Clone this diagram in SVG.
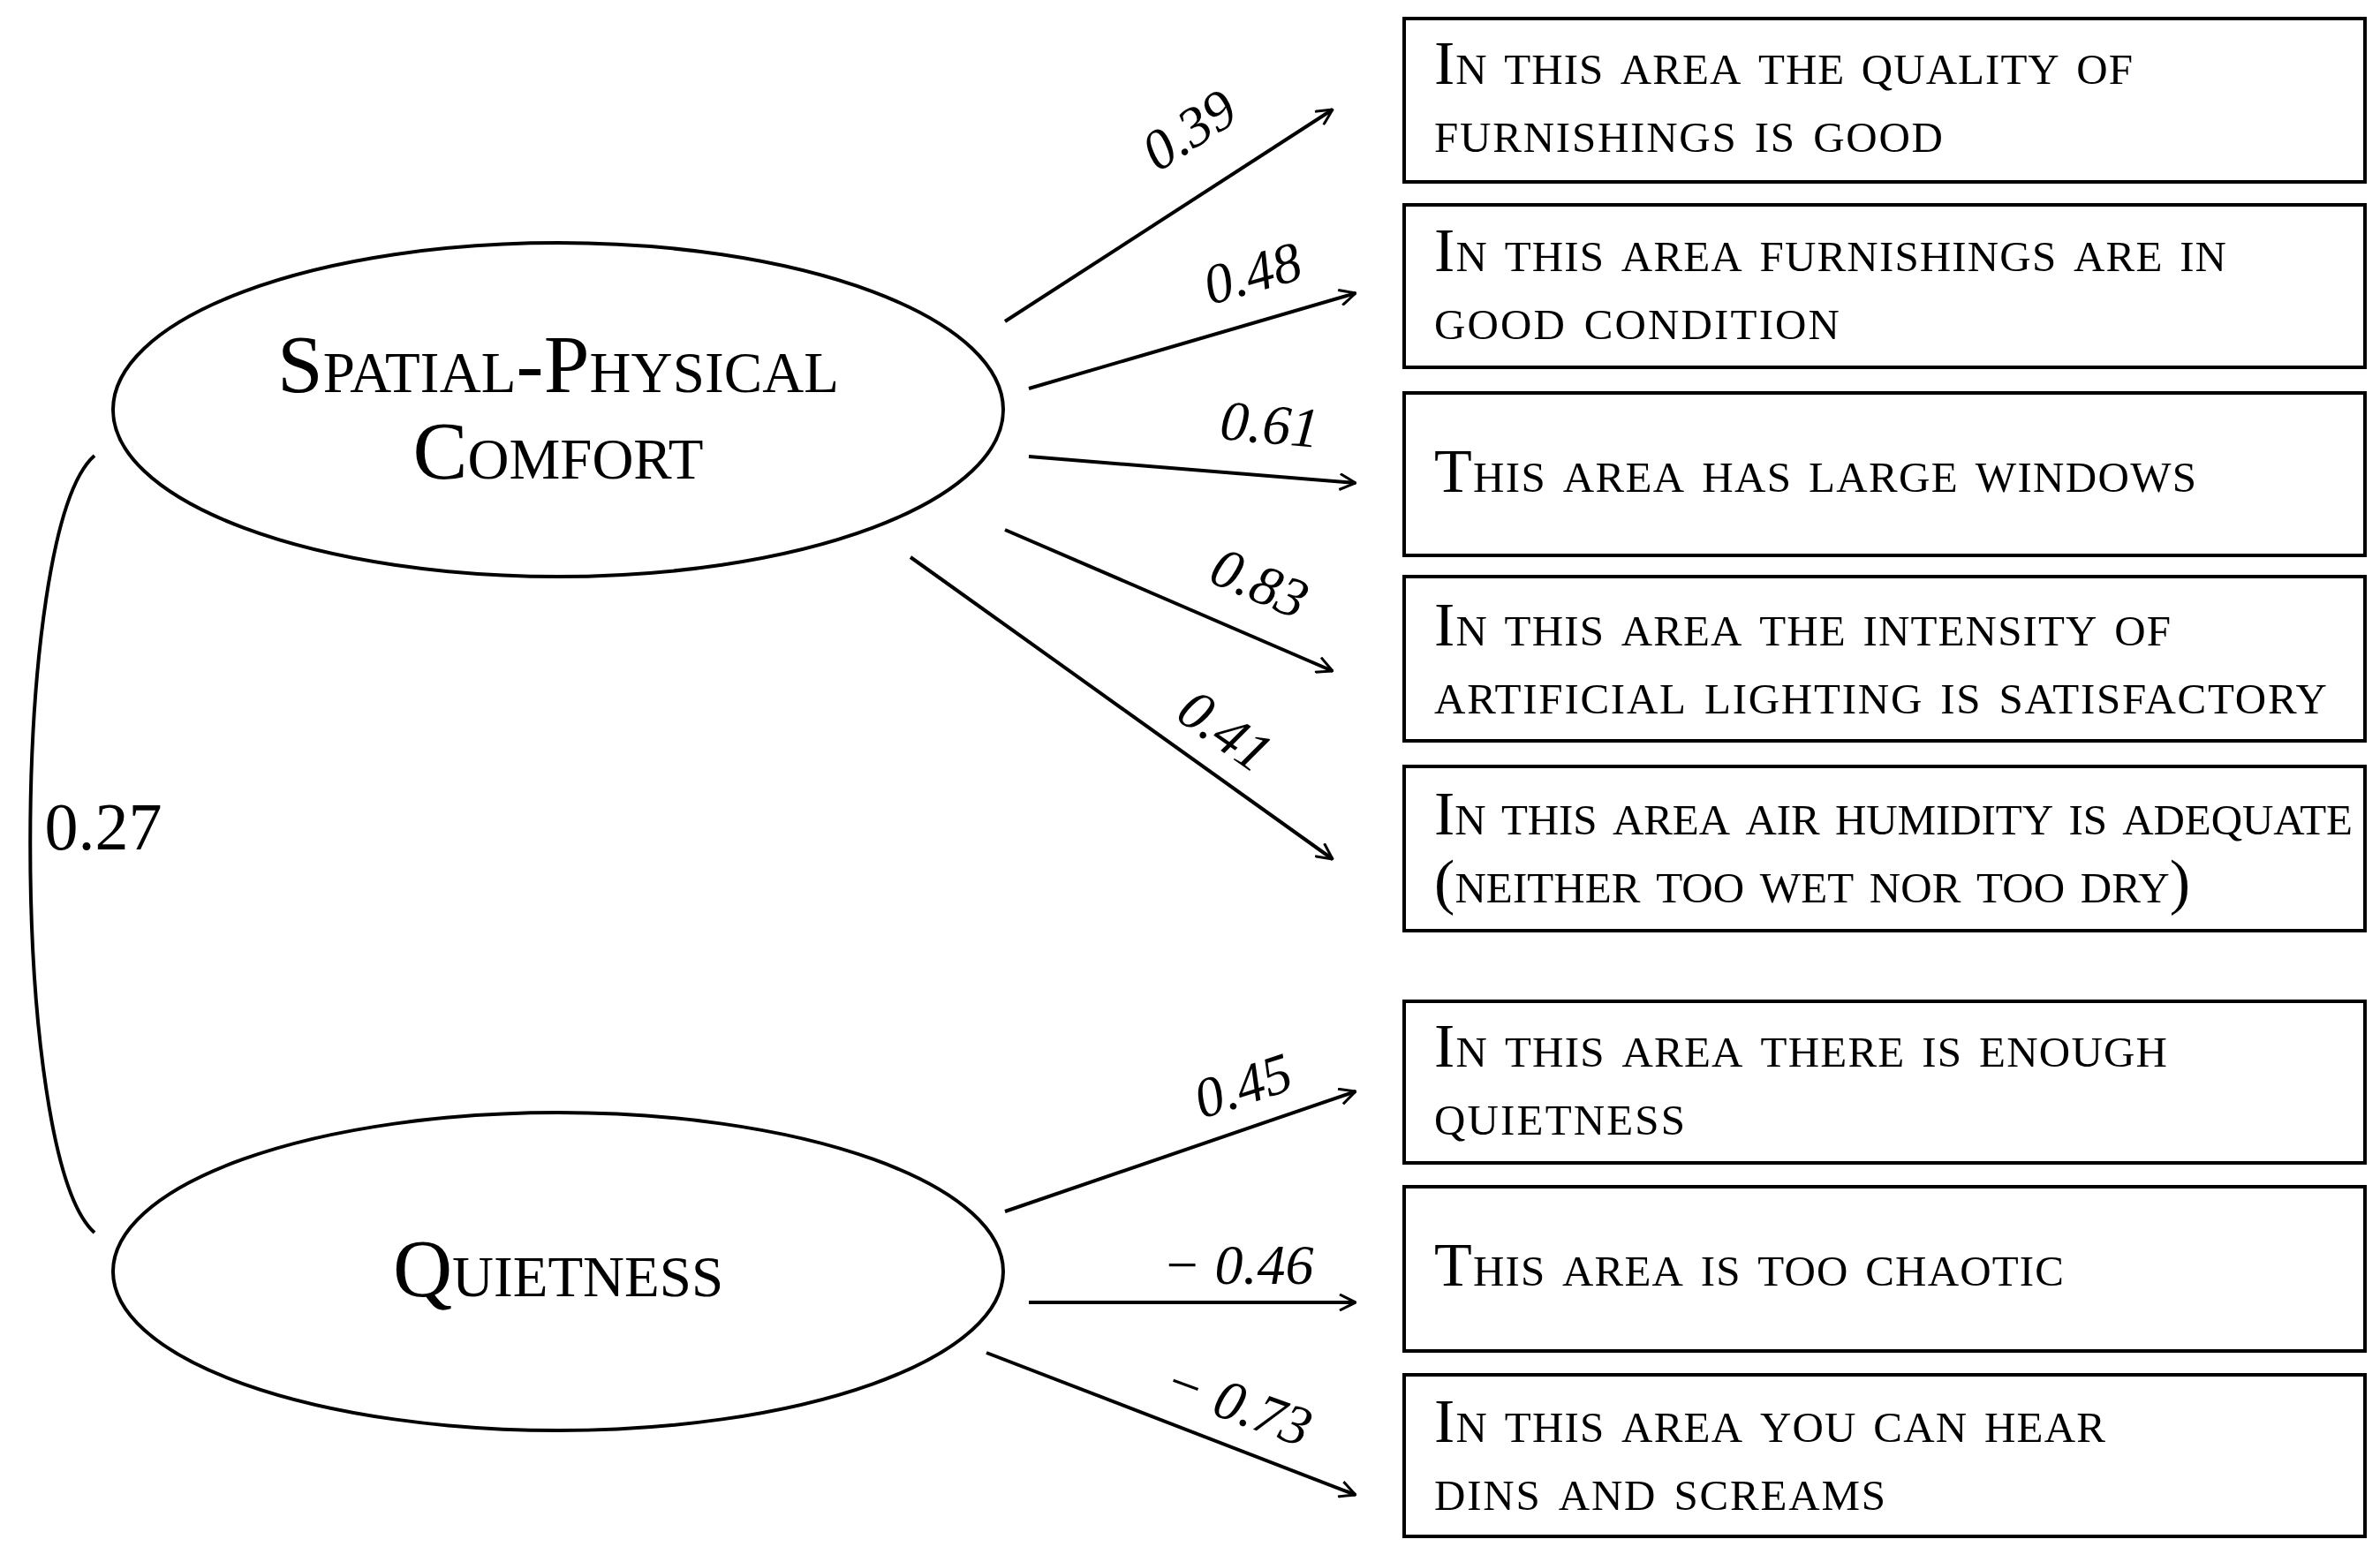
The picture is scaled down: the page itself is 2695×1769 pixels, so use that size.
<svg xmlns="http://www.w3.org/2000/svg" width="2695" height="1769" viewBox="0 0 2695 1769">
<defs>
<marker id="ah" viewBox="0 0 20 20" refX="19" refY="10" markerWidth="20" markerHeight="20" markerUnits="userSpaceOnUse" orient="auto"><path d="M1,1 L19,10 L1,19" fill="none" stroke="#000" stroke-width="3"/></marker>
</defs>
<style>
.b{fill:#fff;stroke:#000;stroke-width:4}
.t{font-family:"Liberation Serif",serif;font-variant:small-caps;font-size:70px;fill:#000}
.l{font-family:"Liberation Serif",serif;font-style:italic;font-size:64px;fill:#000}
.e{font-family:"Liberation Serif",serif;font-variant:small-caps;font-size:93px;fill:#000;text-anchor:middle}
.c{fill:none;stroke:#000;stroke-width:4;marker-end:url(#ah)}
</style>
<rect width="2695" height="1769" fill="#fff"/>
<g id="n1"><ellipse class="b" cx="632" cy="464" rx="504" ry="189"/><text class="e" x="632" y="444" textLength="636">Spatial-Physical</text><text class="e" x="632" y="542">Comfort</text></g>
<g id="n2"><ellipse class="b" cx="632" cy="1440" rx="504" ry="180"/><text class="e" x="632" y="1468">Quietness</text></g>
<g id="i1"><rect class="b" x="1590" y="21" width="1088" height="185"/><text class="t" x="1624" y="95" textLength="791">In this area the quality of</text><text class="t" x="1624" y="172" textLength="576">furnishings is good</text></g>
<g id="i2"><rect class="b" x="1590" y="232" width="1088" height="184"/><text class="t" x="1624" y="307" textLength="897">In this area furnishings are in</text><text class="t" x="1624" y="384" textLength="459">good condition</text></g>
<g id="i3"><rect class="b" x="1590" y="445" width="1088" height="184"/><text class="t" x="1624" y="557" textLength="863">This area has large windows</text></g>
<g id="i4"><rect class="b" x="1590" y="653" width="1088" height="186"/><text class="t" x="1624" y="731" textLength="834">In this area the intensity of</text><text class="t" x="1624" y="808" textLength="1011">artificial lighting is satisfactory</text></g>
<g id="i5"><rect class="b" x="1590" y="868" width="1088" height="186"/><text class="t" x="1624" y="945" textLength="1040">In this area air humidity is adequate</text><text class="t" x="1624" y="1022" textLength="856">(neither too wet nor too dry)</text></g>
<g id="i6"><rect class="b" x="1590" y="1134" width="1088" height="183"/><text class="t" x="1624" y="1208" textLength="830">In this area there is enough</text><text class="t" x="1624" y="1285" textLength="284">quietness</text></g>
<g id="i7"><rect class="b" x="1590" y="1344" width="1088" height="186"/><text class="t" x="1624" y="1456" textLength="713">This area is too chaotic</text></g>
<g id="i8"><rect class="b" x="1590" y="1557" width="1088" height="183"/><text class="t" x="1624" y="1633" textLength="760">In this area you can hear</text><text class="t" x="1624" y="1710" textLength="511">dins and screams</text></g>
<g id="connectors">
<path class="c" d="M1138,364 L1509,124"/>
<path class="c" d="M1165,440 L1535,332"/>
<path class="c" d="M1165,517 L1535,547"/>
<path class="c" d="M1138,600 L1509,760"/>
<path class="c" d="M1031,631 L1509,973"/>
<path class="c" d="M1138,1372 L1535,1236"/>
<path class="c" d="M1165,1475 L1535,1475"/>
<path class="c" d="M1117,1532 L1535,1693"/>
<path d="M107,516 C10,600 10,1310 107,1396" fill="none" stroke="#000" stroke-width="4"/>
<text class="l" transform="translate(1358,165) rotate(-33)" text-anchor="middle">0.39</text>
<text class="l" transform="translate(1424,330) rotate(-16)" text-anchor="middle">0.48</text>
<text class="l" transform="translate(1436,502) rotate(5)" text-anchor="middle">0.61</text>
<text class="l" transform="translate(1418,680) rotate(23)" text-anchor="middle">0.83</text>
<text class="l" transform="translate(1375,845) rotate(35)" text-anchor="middle">0.41</text>
<text class="l" transform="translate(1414,1250) rotate(-18)" text-anchor="middle">0.45</text>
<text class="l" x="1402" y="1454" text-anchor="middle" font-style="normal">− 0.46</text>
<text class="l" transform="translate(1395,1610) rotate(20)" text-anchor="middle">− 0.73</text>
<text x="117" y="962" font-family="Liberation Serif,serif" font-size="76" text-anchor="middle">0.27</text>
</g>
</svg>
